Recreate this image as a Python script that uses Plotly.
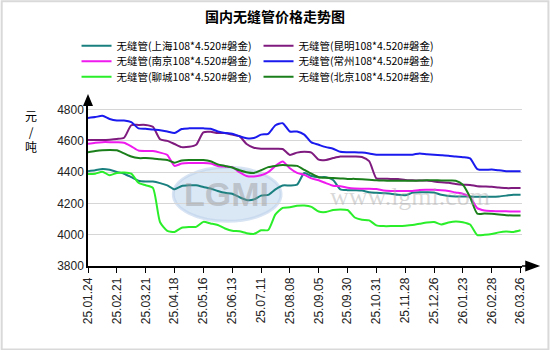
import plotly.graph_objects as go

tick_labels = ["25.01.24", "25.02.21", "25.03.21", "25.04.18", "25.05.16", "25.06.13",
               "25.07.11", "25.08.08", "25.09.05", "25.09.30", "25.10.31", "25.11.28",
               "25.12.26", "26.01.23", "26.02.28", "26.03.26"]
steps_per_tick = 4
x_idx = [i / steps_per_tick for i in range(61)]

shanghai = [4406,4412,4420,4415,4402,4390,4368,4345,4340,4340,4330,4315,4290,4312,4316,4316,4305,4295,4280,4268,
            4262,4240,4222,4225,4250,4255,4290,4315,4315,4320,4395,4375,4368,4368,4350,4290,4285,4284,4282,4272,
            4268,4265,4262,4255,4252,4268,4272,4272,4270,4255,4248,4245,4245,4244,4243,4243,4243,4245,4250,4256,4256]
kunming = [4606,4606,4606,4608,4612,4620,4700,4702,4702,4690,4610,4600,4580,4560,4562,4575,4655,4658,4650,4650,
           4640,4630,4580,4556,4550,4550,4550,4548,4510,4525,4530,4525,4480,4478,4490,4500,4500,4500,4497,4470,
           4360,4358,4357,4356,4350,4348,4347,4347,4340,4335,4332,4325,4320,4318,4310,4308,4306,4302,4298,4298,4298]
nanjing = [4581,4588,4592,4592,4591,4588,4565,4538,4535,4535,4525,4510,4440,4455,4458,4458,4458,4455,4440,4435,
           4432,4400,4375,4372,4380,4400,4440,4468,4425,4395,4383,4360,4348,4330,4313,4310,4300,4295,4294,4294,
           4292,4283,4280,4279,4279,4280,4286,4287,4287,4285,4280,4270,4262,4240,4170,4155,4152,4150,4150,4148,4148]
changzhou = [4747,4752,4760,4740,4730,4730,4720,4680,4677,4672,4668,4660,4650,4676,4680,4680,4680,4678,4660,4650,
             4645,4630,4617,4618,4640,4645,4700,4713,4660,4660,4640,4590,4575,4560,4550,4530,4528,4528,4526,4520,
             4511,4511,4511,4512,4512,4512,4520,4515,4511,4508,4505,4500,4496,4488,4420,4415,4417,4412,4406,4406,4406]
liaocheng = [4388,4390,4403,4380,4395,4398,4390,4332,4316,4300,4080,4025,4017,4045,4050,4050,4082,4072,4062,4040,
             4025,4022,4010,4005,4028,4030,4130,4172,4175,4185,4187,4178,4148,4145,4158,4162,4158,4110,4096,4092,
             4060,4055,4055,4056,4058,4062,4070,4078,4081,4066,4078,4085,4080,4065,3998,4000,4005,4015,4020,4018,4028]
beijing = [4528,4535,4540,4542,4540,4520,4500,4490,4490,4488,4482,4478,4460,4475,4478,4478,4478,4470,4450,4440,
           4430,4412,4400,4395,4412,4432,4440,4445,4443,4440,4415,4390,4368,4364,4362,4360,4357,4357,4355,4352,
           4348,4346,4345,4345,4345,4345,4346,4348,4348,4347,4346,4345,4320,4240,4135,4135,4134,4130,4125,4123,4123]

series = [
    ("无缝管(上海108*4.520#磐金)", shanghai, "#1a7f7f", "legend"),
    ("无缝管(昆明108*4.520#磐金)", kunming, "#7f1a7f", "legend"),
    ("无缝管(南京108*4.520#磐金)", nanjing, "#ee1aee", "legend2"),
    ("无缝管(常州108*4.520#磐金)", changzhou, "#1a1aee", "legend2"),
    ("无缝管(聊城108*4.520#磐金)", liaocheng, "#2aee2a", "legend3"),
    ("无缝管(北京108*4.520#磐金)", beijing, "#1a7f1a", "legend3"),
]

fig = go.Figure()
for name, vals, col, lg in series:
    fig.add_trace(go.Scatter(x=x_idx, y=vals, name=name, mode="lines", legend=lg,
                             line=dict(color=col, width=2, shape="spline", smoothing=0.6)))

W, H = 550, 350
ml, mr, mt, mb = 87.5, 27.5, 105.7, 84.4
pw, ph = W - ml - mr, H - mt - mb

def px_x(px):
    return (px - ml) / pw

def px_y(py):
    return 1 + (mt - py) / ph

font_cjk = "Noto Sans CJK SC, Liberation Sans, sans-serif"

def legend_row(yc):
    return dict(orientation="h", x=px_x(76), xanchor="left", y=px_y(yc), yanchor="middle",
                entrywidth=137, entrywidthmode="pixels", itemwidth=30,
                font=dict(family=font_cjk, size=10.5, color="black"),
                bgcolor="rgba(0,0,0,0)")

fig.update_layout(
    width=W, height=H,
    margin=dict(l=ml, r=mr, t=mt, b=mb, pad=0),
    paper_bgcolor="white", plot_bgcolor="white",
    font=dict(family="Liberation Sans, Arial, sans-serif", size=12, color="black"),
    title=dict(text="<b>国内无缝管价格走势图</b>", x=0.5, xanchor="center", y=1 - 17 / H,
               yanchor="middle", font=dict(family=font_cjk, size=14, color="black")),
    showlegend=True,
    legend=legend_row(45.5),
    legend2=legend_row(61),
    legend3=legend_row(76.5),
    xaxis=dict(range=[0, 15.05], tickmode="array", tickvals=list(range(len(tick_labels))),
               ticktext=tick_labels, tickangle=-90, showgrid=False, zeroline=False,
               showline=True, linecolor="black", linewidth=1.5,
               ticks="outside", ticklen=5, tickcolor="black",
               tickfont=dict(size=12, color="#222")),
    yaxis=dict(range=[3800, 4823], tickmode="array", tickvals=[3800, 4000, 4200, 4400, 4600, 4800],
               showgrid=True, gridcolor="#d6d6d6", gridwidth=1, zeroline=False,
               showline=True, linecolor="black", linewidth=1.5, ticks="",
               tickfont=dict(size=12, color="#222")),
)

# axis arrows
fig.add_shape(type="path", xref="x domain", yref="y domain", xsizemode="pixel", ysizemode="pixel",
              xanchor=0, yanchor=1, path="M-5,0 L5,0 L0,12 Z", fillcolor="black", line=dict(width=0))
fig.add_shape(type="path", xref="x domain", yref="y domain", xsizemode="pixel", ysizemode="pixel",
              xanchor=1, yanchor=0, path="M0,0 L5,0 M4,-4.5 L4,4.5 L16,0 Z", fillcolor="black",
              line=dict(color="black", width=1.5))

# watermark
fig.add_shape(type="circle", xref="paper", yref="paper",
              x0=px_x(173), x1=px_x(281), y0=px_y(167), y1=px_y(221),
              fillcolor="rgba(150,185,225,0.35)", line=dict(color="rgba(190,210,235,0.6)", width=3),
              layer="below")
fig.add_annotation(text="<b>LGMI</b>", xref="paper", yref="paper", x=px_x(226), y=px_y(194),
                   xanchor="center", yanchor="middle", showarrow=False,
                   font=dict(family="Liberation Sans", size=34, color="rgba(150,150,150,0.45)"))
fig.add_annotation(text="www.lgmi.com", xref="paper", yref="paper", x=px_x(410), y=px_y(196),
                   xanchor="center", yanchor="middle", showarrow=False,
                   font=dict(family="Liberation Serif", size=26, color="rgba(170,170,170,0.45)"))

# unit label
fig.add_annotation(text="元<br>/<br>吨", xref="paper", yref="paper", x=px_x(30), y=px_y(131),
                   xanchor="center", yanchor="middle", showarrow=False, align="center",
                   font=dict(family=font_cjk, size=12, color="black"))

# border
fig.add_shape(type="rect", xref="paper", yref="paper",
              x0=px_x(1), x1=px_x(W - 1), y0=px_y(H - 1), y1=px_y(1),
              line=dict(color="#d9d9d9", width=2), fillcolor="rgba(0,0,0,0)", layer="below")

fig.write_html("out.html")
